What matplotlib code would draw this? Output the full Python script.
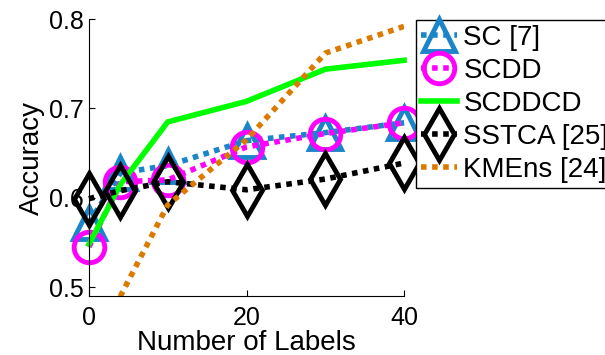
import matplotlib.pyplot as plt

plt.rcParams["font.family"] = ["Liberation Sans", "DejaVu Sans"]

# nombre d'étiquettes et précision par méthode
n_labels = [0, 4, 10, 20, 30, 40]
acc_sc = [0.572, 0.628, 0.636, 0.664, 0.673, 0.684]
acc_scdd = [0.545, 0.618, 0.620, 0.657, 0.672, 0.684]
acc_scddcd = [0.548, 0.615, 0.685, 0.708, 0.744, 0.754]
acc_sstca = [0.599, 0.608, 0.618, 0.609, 0.621, 0.639]
acc_kmens = [0.42, 0.49, 0.592, 0.665, 0.762, 0.792]

labels = ["SC [7]", "SCDD", "SCDDCD", "SSTCA [25]", "KMEns [24]"]

fig = plt.figure(figsize=(6.05, 3.55), dpi=100)
ax = fig.add_axes([0.147, 0.166, 0.521, 0.78])

dots = (0, (1, 1))
lw = 4

# marqueurs non coupés au bord des axes
ax.plot(n_labels, acc_sc, linestyle=dots, color="#1a85c8", linewidth=lw,
        marker="^", markersize=23, markerfacecolor="none",
        markeredgewidth=3.5, label=labels[0], clip_on=False)
ax.plot(n_labels, acc_scdd, linestyle=dots, color="#ff00ff", linewidth=lw,
        marker="o", markersize=22, markerfacecolor="none",
        markeredgewidth=3.5, label=labels[1], clip_on=False)
ax.plot(n_labels, acc_scddcd, linestyle="-", color="#00ff00", linewidth=lw,
        label=labels[2], clip_on=False)
ax.plot(n_labels, acc_sstca, linestyle=dots, color="black", linewidth=lw,
        marker="d", markersize=26, markerfacecolor="none",
        markeredgewidth=3.5, label=labels[3], clip_on=False)
ax.plot(n_labels, acc_kmens, linestyle=dots, color="#dc7a00", linewidth=lw,
        label=labels[4])

ax.set_xlim(0, 40)
ax.set_ylim(0.49, 0.8)
ax.set_xticks([0, 20, 40])
ax.set_yticks([0.5, 0.6, 0.7, 0.8])
ax.set_xticklabels(["0", "20", "40"])
ax.set_yticklabels(["0.5", "0.6", "0.7", "0.8"])
ax.tick_params(labelsize=18, direction="in", length=4, width=0.8)
ax.tick_params(axis="x", pad=7)
ax.spines["top"].set_visible(False)
ax.spines["right"].set_visible(False)
ax.set_xlabel("Number of Labels", fontsize=20, labelpad=0)
ax.set_ylabel("Accuracy", fontsize=20, labelpad=3)

leg = fig.legend(loc="upper left", bbox_to_anchor=(0.687, 0.945),
                 fontsize=20, handlelength=1.3, handletextpad=0.22,
                 labelspacing=0.25, borderpad=0.2, borderaxespad=0,
                 fancybox=False, framealpha=1, edgecolor="black",
                 markerscale=1.0)
leg.get_frame().set_linewidth(1)

fig.savefig("out.png", dpi=100)
